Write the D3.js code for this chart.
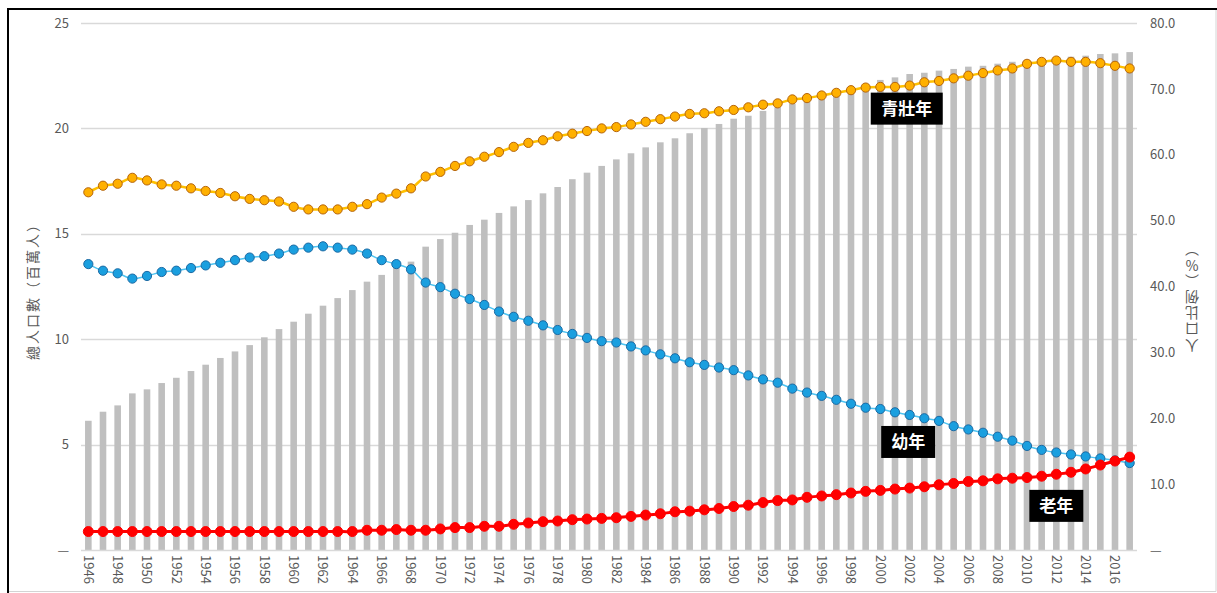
<!DOCTYPE html>
<html>
<head>
<meta charset="utf-8">
<script src="https://cdn.jsdelivr.net/npm/d3@7"></script>
<style>
	body { margin: 0; background: #fff; }
	text { font-family: "Noto Sans CJK TC", "Noto Sans", sans-serif; }
</style>
</head>
<body>
<svg id="chart"></svg>
<script>
// 年份
let years		= d3.range(1946, 2018);

// 總人口數（百萬人）
let population	= [
	6.13, 6.56, 6.86, 7.43, 7.62, 7.92, 8.17, 8.49, 8.79, 9.11,
	9.42, 9.72, 10.09, 10.48, 10.83, 11.21, 11.59, 11.95, 12.33, 12.73,
	13.05, 13.38, 13.68, 14.39, 14.75, 15.05, 15.42, 15.67, 15.99, 16.30,
	16.60, 16.92, 17.22, 17.59, 17.90, 18.22, 18.53, 18.82, 19.10, 19.34,
	19.53, 19.77, 20.02, 20.21, 20.46, 20.60, 20.83, 21.00, 21.17, 21.35,
	21.52, 21.74, 21.93, 22.10, 22.30, 22.42, 22.58, 22.64, 22.74, 22.82,
	22.93, 22.97, 23.07, 23.16, 23.24, 23.32, 23.38, 23.40, 23.45, 23.53,
	23.56, 23.62
];

// 青壯年 (%)
let working		= [
	54.3, 55.3, 55.6, 56.5, 56.1, 55.5, 55.3, 54.9, 54.5, 54.2,
	53.7, 53.3, 53.1, 52.9, 52.1, 51.7, 51.7, 51.7, 52.1, 52.5,
	53.5, 54.1, 54.9, 56.7, 57.4, 58.3, 59.0, 59.7, 60.4, 61.2,
	61.8, 62.2, 62.8, 63.2, 63.6, 64.0, 64.2, 64.6, 65.0, 65.4,
	65.8, 66.2, 66.3, 66.6, 66.8, 67.2, 67.6, 67.8, 68.4, 68.6,
	69.0, 69.4, 69.8, 70.2, 70.3, 70.3, 70.5, 71.0, 71.2, 71.6,
	72.0, 72.4, 72.8, 73.1, 73.8, 74.1, 74.3, 74.1, 74.1, 73.9,
	73.5, 73.1
];

// 幼年 (%)
let young		= [
	43.4, 42.4, 42.0, 41.2, 41.6, 42.2, 42.4, 42.8, 43.2, 43.6,
	44.0, 44.4, 44.6, 45.0, 45.6, 45.9, 46.1, 45.9, 45.6, 45.0,
	44.0, 43.4, 42.6, 40.6, 39.9, 38.9, 38.1, 37.2, 36.2, 35.4,
	34.8, 34.1, 33.4, 32.8, 32.2, 31.7, 31.5, 30.9, 30.3, 29.7,
	29.1, 28.5, 28.1, 27.7, 27.3, 26.5, 25.9, 25.4, 24.5, 23.9,
	23.4, 22.8, 22.2, 21.6, 21.4, 20.9, 20.5, 20.0, 19.6, 18.8,
	18.3, 17.8, 17.2, 16.6, 15.8, 15.2, 14.8, 14.5, 14.2, 13.9,
	13.6, 13.2
];

// 老年 (%)
let elderly		= [
	2.8, 2.8, 2.8, 2.8, 2.8, 2.8, 2.8, 2.8, 2.8, 2.8,
	2.8, 2.8, 2.8, 2.8, 2.8, 2.8, 2.8, 2.8, 2.8, 3.0,
	3.0, 3.1, 3.0, 3.0, 3.2, 3.4, 3.4, 3.6, 3.6, 3.9,
	4.1, 4.3, 4.4, 4.6, 4.7, 4.8, 4.9, 5.1, 5.3, 5.5,
	5.8, 5.9, 6.1, 6.3, 6.6, 6.8, 7.2, 7.5, 7.6, 8.0,
	8.2, 8.4, 8.65, 8.9, 9.05, 9.25, 9.4, 9.6, 9.9, 10.1,
	10.4, 10.5, 10.8, 10.9, 11.0, 11.2, 11.5, 11.8, 12.3, 12.9,
	13.5, 14.1
];

let leftTicks	= [0, 5, 10, 15, 20, 25];
let rightTicks	= [0, 10, 20, 30, 40, 50, 60, 70, 80];
let yearTicks	= years.filter((o) => (o % 2 === 0));

// 標籤位置 (年份, 比例)
let labels		= [
	{ text: '青壯年', year: 2001.8, value: 67.0 },
	{ text: '幼年', year: 2001.9, value: 16.4 },
	{ text: '老年', year: 2012.0, value: 6.7 }
];

function createChart() {
	let canvasWidth		= 1217;
	let canvasHeight	= 593;
	let plot			= { left: 81, right: 1137, top: 23, bottom: 550 };
	let textColor		= '#595959';

	let svg = d3.select('#chart')
		.attr('width', canvasWidth)
		.attr('height', canvasHeight);

	// frame
	svg.append('path')
		.attr('d', 'M8,' + canvasHeight + ' V9 H' + canvasWidth)
		.attr('fill', 'none')
		.attr('stroke', '#000')
		.attr('stroke-width', 2);
	svg.append('path')
		.attr('d', 'M1216,10 V591.5 H9')
		.attr('fill', 'none')
		.attr('stroke', '#d4d4d4')
		.attr('stroke-width', 1);

	let x		= d3.scaleBand().domain(years).range([plot.left, plot.right]).paddingInner(0.55).paddingOuter(0.275);
	let yLeft	= d3.scaleLinear().domain([0, 25]).range([plot.bottom, plot.top]);
	let yRight	= d3.scaleLinear().domain([0, 80]).range([plot.bottom, plot.top]);
	let xMid	= (o) => (x(o) + x.bandwidth() / 2);
	let xYear	= d3.scaleLinear().domain([years[0], years[years.length - 1]]).range([xMid(years[0]), xMid(years[years.length - 1])]);

	// grid
	svg.append('g').selectAll('line').data(leftTicks.slice(1)).enter()
		.append('line')
			.attr('x1', plot.left)
			.attr('x2', plot.right)
			.attr('y1', (o) => (Math.round(yLeft(o)) + .5))
			.attr('y2', (o) => (Math.round(yLeft(o)) + .5))
			.attr('stroke', '#d9d9d9')
			.attr('stroke-width', 1.5);

	// bars
	svg.append('g').selectAll('rect').data(years).enter()
		.append('rect')
			.attr('x', (o) => (x(o)))
			.attr('width', x.bandwidth())
			.attr('y', (o, i) => (yLeft(population[i])))
			.attr('height', (o, i) => (yLeft(0) - yLeft(population[i])))
			.attr('fill', '#bfbfbf');

	svg.append('line')
		.attr('x1', plot.left)
		.attr('x2', plot.right)
		.attr('y1', plot.bottom + .5)
		.attr('y2', plot.bottom + .5)
		.attr('stroke', '#d9d9d9')
		.attr('stroke-width', 1.5);

	// left axis
	let axisLeft = d3.axisLeft(yLeft).tickValues(leftTicks).tickSize(0).tickPadding(0)
		.tickFormat((o) => (o === 0 ? '—' : o));
	let gLeft = svg.append('g')
		.attr('transform', 'translate(69,0)')
		.call(axisLeft);
	gLeft.select('.domain').remove();
	gLeft.selectAll('text')
		.attr('fill', textColor)
		.style('font-size', '13px');

	// right axis
	let axisRight = d3.axisRight(yRight).tickValues(rightTicks).tickSize(0).tickPadding(0)
		.tickFormat((o) => (o === 0 ? '—' : d3.format('.1f')(o)));
	let gRight = svg.append('g')
		.attr('transform', 'translate(1150,0)')
		.call(axisRight);
	gRight.select('.domain').remove();
	gRight.selectAll('text')
		.attr('fill', textColor)
		.style('font-size', '13px');

	// year labels
	svg.append('g').selectAll('text').data(yearTicks).enter()
		.append('text')
			.attr('transform', (o) => ('translate(' + xMid(o) + ',555) rotate(90)'))
			.attr('dy', '.35em')
			.attr('text-anchor', 'start')
			.attr('fill', textColor)
			.style('font-size', '13px')
			.text((o) => (o));

	// axis titles
	svg.append('text')
		.attr('transform', 'translate(33,288) rotate(-90)')
		.attr('text-anchor', 'middle')
		.attr('dy', '.35em')
		.attr('fill', textColor)
		.style('font-size', '14px')
		.style('letter-spacing', '2px')
		.text('總人口數（百萬人）');

	// stacked vertical text, turned upside down
	svg.append('text')
		.attr('transform', 'translate(1192,296) rotate(180)')
		.attr('text-anchor', 'middle')
		.attr('fill', textColor)
		.style('writing-mode', 'vertical-rl')
		.style('text-orientation', 'upright')
		.style('font-size', '14px')
		.style('letter-spacing', '2px')
		.text('人口比例（%）');

	// lines
	let series = [
		{ data: working, line: '#ffc000', lineWidth: 2.5, fill: '#ffb000', stroke: '#b5650d', r: 4.6 },
		{ data: young, line: '#4ec4f2', lineWidth: 1.5, fill: '#1a9fdf', stroke: '#1c6aa3', r: 4.6 },
		{ data: elderly, line: '#ff0000', lineWidth: 3, fill: '#ff0000', stroke: '#ff0000', r: 5 }
	];

	let lineFunc = d3.line()
		.x((o, i) => (xMid(years[i])))
		.y((o) => (yRight(o)))
		.curve(d3.curveCatmullRom);

	series.forEach((s) => {
		let g = svg.append('g');
		g.append('path')
			.attr('d', lineFunc(s.data))
			.attr('fill', 'none')
			.attr('stroke', s.line)
			.attr('stroke-width', s.lineWidth);
		g.selectAll('circle').data(s.data).enter()
			.append('circle')
				.attr('cx', (o, i) => (xMid(years[i])))
				.attr('cy', (o) => (yRight(o)))
				.attr('r', s.r)
				.attr('fill', s.fill)
				.attr('stroke', s.stroke)
				.attr('stroke-width', 1);
	});

	// label boxes
	let lbl = svg.append('g').selectAll('g').data(labels).enter()
		.append('g')
			.attr('transform', (o) => ('translate(' + xYear(o.year) + ',' + yRight(o.value) + ')'));

	lbl.append('rect')
		.attr('x', (o) => (-(o.text.length * 18 + 18) / 2))
		.attr('y', -16)
		.attr('width', (o) => (o.text.length * 18 + 18))
		.attr('height', 32)
		.attr('fill', '#000');

	lbl.append('text')
		.attr('text-anchor', 'middle')
		.attr('dy', '.36em')
		.attr('fill', '#fff')
		.style('font-size', '17px')
		.style('font-weight', 'bold')
		.text((o) => (o.text));
}

createChart();
</script>
</body>
</html>
